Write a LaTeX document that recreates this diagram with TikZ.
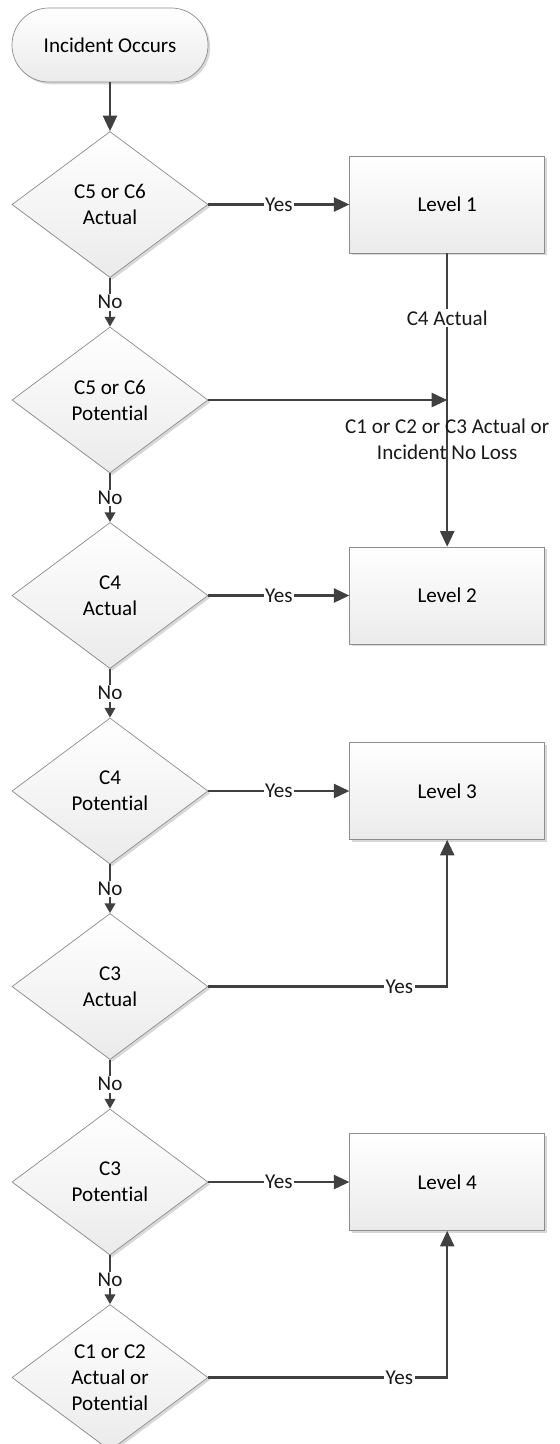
\documentclass[tikz,border=0pt]{standalone}
\usepackage{fontspec}
\setmainfont{Carlito}[Ligatures={NoCommon}]
\usetikzlibrary{shapes.geometric, arrows.meta, positioning, shadows}

\begin{document}
\begin{tikzpicture}[
    node distance=1.22cm and 3.525cm,
    >={Triangle[length=11pt, width=10pt]},
    font=\fontsize{15}{18.5}\selectfont,
    % Node Styles
    shade/.style={top color=white, bottom color=black!8, draw=black!45, line width=0.5pt,
        drop shadow={shadow xshift=1.6pt, shadow yshift=-1.6pt, fill=black!30, opacity=0.5}},
    start/.style={shade, rectangle, rounded corners=0.92cm, minimum width=4.9cm, minimum height=1.85cm},
    decision/.style={shade, diamond, aspect=1.34, inner sep=0pt, align=center, minimum width=4.9cm, minimum height=3.65cm},
    level/.style={shade, rectangle, minimum width=4.875cm, minimum height=2.425cm},
    flow/.style={draw=black!75, line width=1.5pt},
    noflow/.style={flow, -{Triangle[length=7pt, width=7.5pt]}},
    lbl/.style={fill=white, inner sep=1pt, text=black!90}
]
\useasboundingbox (0,0) rectangle (14,-36.1);

% --- 1. Decision chain (left column) ---
\node[start] (start) at (2.75,-1.125) {Incident Occurs};
\node[decision, below=of start] (c56act) {C5 or C6\\Actual};
\node[decision, below=of c56act] (c56pot) {C5 or C6\\Potential};
\node[decision, below=of c56pot] (c4act) {C4\\Actual};
\node[decision, below=of c4act] (c4pot) {C4\\Potential};
\node[decision, below=of c4pot] (c3act) {C3\\Actual};
\node[decision, below=of c3act] (c3pot) {C3\\Potential};
\node[decision, below=of c3pot] (c12) {C1 or C2\\Actual or\\Potential};

% --- 2. Levels (right column) ---
\node[level, right=of c56act] (lvl1) {Level 1};
\node[level, right=of c4act] (lvl2) {Level 2};
\node[level, right=of c4pot] (lvl3) {Level 3};
\node[level, right=of c3pot] (lvl4) {Level 4};

\coordinate (join) at (lvl1 |- c56pot);

% --- Edges ---
% No branches
\draw[flow, ->] (start) -- (c56act);
\draw[noflow] (c56act) -- node[lbl] {No} (c56pot);
\draw[noflow] (c56pot) -- node[lbl] {No} (c4act);
\draw[noflow] (c4act) -- node[lbl] {No} (c4pot);
\draw[noflow] (c4pot) -- node[lbl] {No} (c3act);
\draw[noflow] (c3act) -- node[lbl] {No} (c3pot);
\draw[noflow] (c3pot) -- node[lbl] {No} (c12);

% Yes branches
\draw[flow, ->] (c56act) -- node[lbl] {Yes} (lvl1);
\draw[flow, ->] (c4act) -- node[lbl] {Yes} (lvl2);
\draw[flow, ->] (c4pot) -- node[lbl] {Yes} (lvl3);
\draw[flow, ->] (c3pot) -- node[lbl] {Yes} (lvl4);
\draw[flow, ->] (c3act) -| node[lbl, pos=0.4] {Yes} (lvl3);
\draw[flow, ->] (c12) -| node[lbl, pos=0.4] {Yes} (lvl4);

% Level 1 to Level 2
\draw[flow, ->] (c56pot) -- (join);
\draw[flow] (lvl1) -- node[lbl, pos=0.44] {C4 Actual} (join);
\draw[flow, ->] (join) -- node[pos=0.27, align=center, text=black!90] {C1 or C2 or C3 Actual or\\Incident No Loss} (lvl2);

\end{tikzpicture}
\end{document}
